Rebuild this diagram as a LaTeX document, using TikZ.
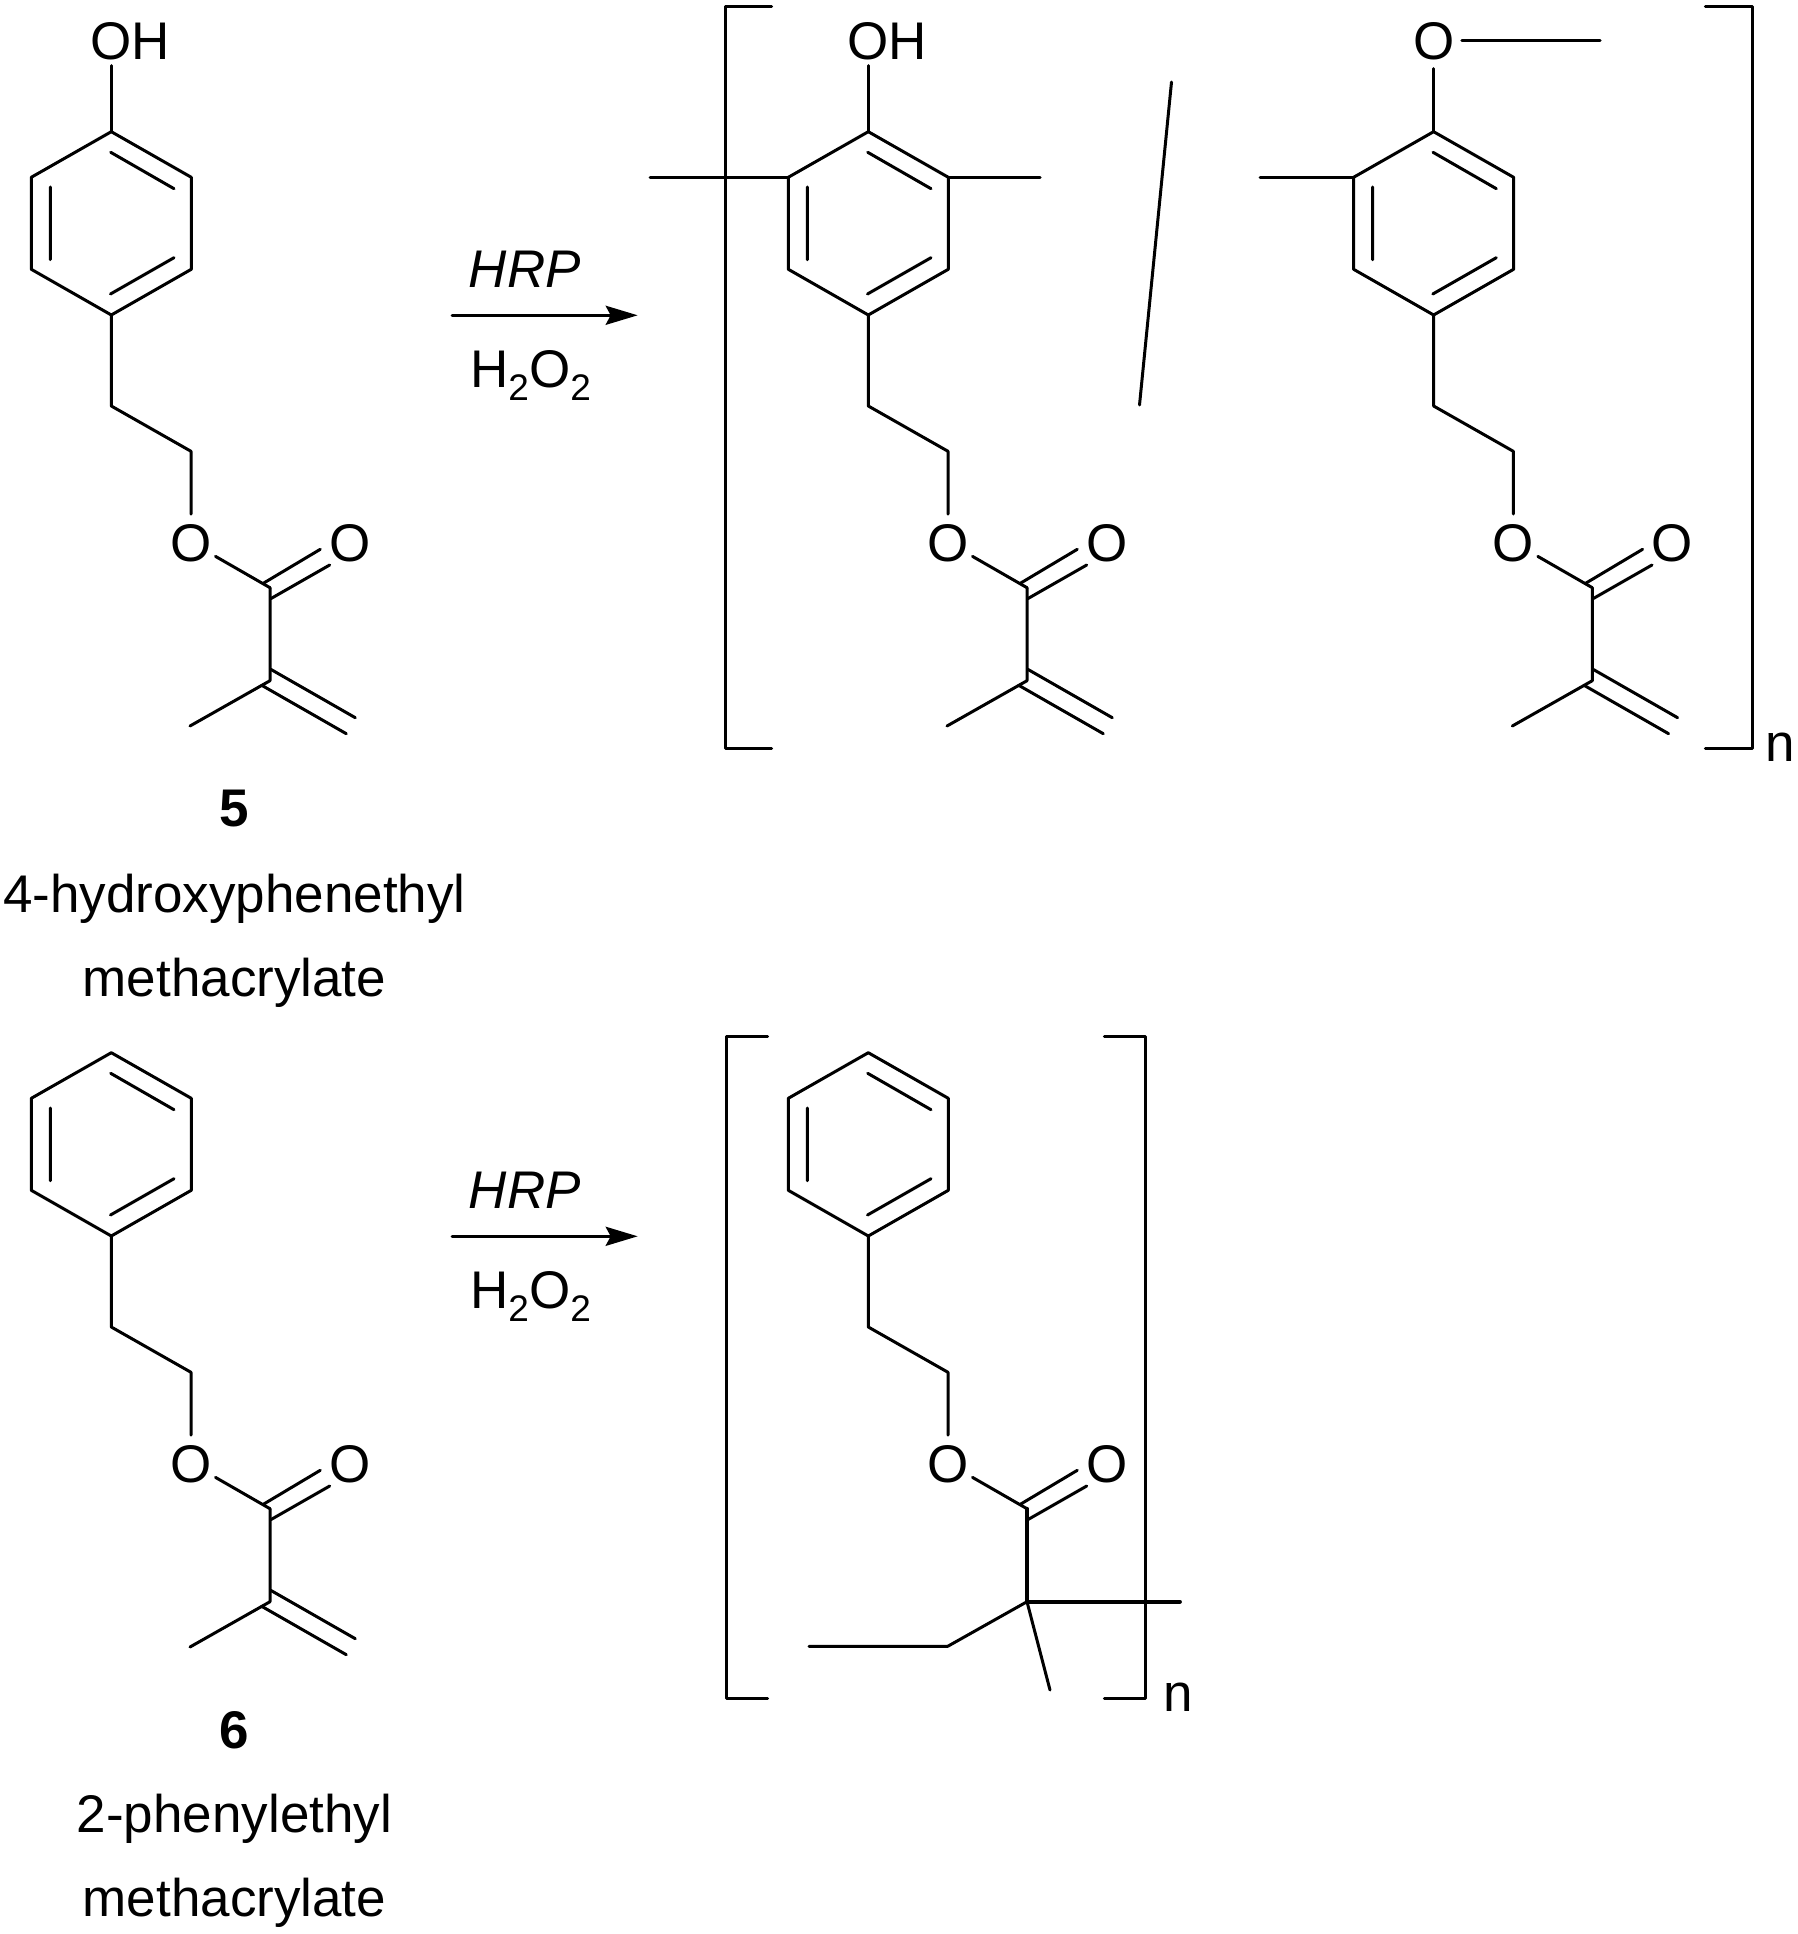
\documentclass[tikz,border=0pt]{standalone}
\usepackage{fontspec}
\setmainfont{Liberation Sans}
\usetikzlibrary{
arrows.meta,
positioning,
shapes.geometric
}
\newcommand{\subtwo}{\raisebox{-12.3pt}{\fontsize{37}{37}\selectfont 2}}
\begin{document}
\begin{tikzpicture}[
    x=1pt, y=-1pt,
    >={Stealth[length=32pt,width=19pt,inset=5pt]},
    bond/.style={line width=3pt, line cap=round, line join=round},
    thickbond/.style={bond, line width=3.8pt},
    every node/.style={font=\fontsize{53}{60}\selectfont, inner sep=0pt},
    atom/.style={circle, minimum size=54pt, text height=38pt, text depth=0pt},
    caption/.style={text height=38pt, text depth=12pt}]
  \useasboundingbox (0,0) rectangle (1797,1934);
  % ring, ethyl chain and ester group
  \foreach \u/\dx/\dy in {a/0/0, b/757/0, c/1322.3/0, d/0/921, e/757/921} {
    \begin{scope}[shift={(\dx,\dy)}]
      \coordinate (\u-r1) at (111.3,131.7);
      \coordinate (\u-r2) at (191.3,177.3);
      \coordinate (\u-r3) at (191.3,269.3);
      \coordinate (\u-r4) at (111.3,315);
      \coordinate (\u-r5) at (31.3,269.3);
      \coordinate (\u-r6) at (31.3,177.3);
      \coordinate (\u-i1) at (110.7,152.3);
      \coordinate (\u-i2) at (174,188.7);
      \coordinate (\u-i3) at (110.5,294);
      \coordinate (\u-i4) at (174,257.7);
      \coordinate (\u-i5) at (50.3,187);
      \coordinate (\u-i6) at (50.3,259.7);
      \coordinate (\u-ch1) at (111.3,406);
      \coordinate (\u-ch2) at (191,451.3);
      \node[atom] (\u-O) at (191,542.3) {O};
      \node[atom] (\u-Oc) at (349.7,542.3) {O};
      \coordinate (\u-co) at (270,587.7);
      \coordinate (\u-co1) at (263.3,583.3);
      \coordinate (\u-co2) at (270.7,598.7);
      \coordinate (\u-co3) at (320.3,549.3);
      \coordinate (\u-co4) at (329.7,565);
      \coordinate (\u-cq) at (270,680.7);
      \draw[bond] (\u-r1) -- (\u-r2) -- (\u-r3) -- (\u-r4) -- (\u-r5) -- (\u-r6) -- cycle;
      \draw[bond] (\u-i1) -- (\u-i2) (\u-i3) -- (\u-i4) (\u-i5) -- (\u-i6);
      \draw[bond] (\u-r4) -- (\u-ch1) -- (\u-ch2) -- (\u-O);
      \draw[bond] (\u-O) -- (\u-co);
      \draw[bond] (\u-co1) -- (\u-co3) (\u-co2) -- (\u-co4);
    \end{scope}
  }
  % methacrylate ends
  \foreach \u/\dx/\dy in {a/0/0, b/757/0, c/1322.3/0, d/0/921} {
    \begin{scope}[shift={(\dx,\dy)}]
      \coordinate (\u-me) at (190,726);
      \coordinate (\u-v1) at (270.7,669.3);
      \coordinate (\u-v2) at (355.3,717.7);
      \coordinate (\u-v3) at (261.7,685.3);
      \coordinate (\u-v4) at (346.3,733.7);
      \draw[bond] (\u-co) -- (\u-cq) -- (\u-me);
      \draw[bond] (\u-v1) -- (\u-v2) (\u-v3) -- (\u-v4);
    \end{scope}
  }
  % substituents on the rings
  \node[anchor=base west] (a-OH) at (90,59.3) {OH};
  \node[anchor=base west] (b-OH) at (847,59.3) {OH};
  \node[atom] (c-O1) at (1433.6,40.3) {O};
  \coordinate (c-mo) at (1600,40.3);
  \coordinate (b-l) at (650,177.3);
  \coordinate (b-r) at (1040,177.3);
  \coordinate (c-l) at (1260,177.3);
  \coordinate (a-t) at (111.3,65.7);
  \coordinate (b-t) at (868.3,65.7);
  \draw[bond] (a-t) -- (a-r1);
  \draw[bond] (b-t) -- (b-r1);
  \draw[bond] (c-O1) -- (c-r1);
  \draw[bond] (c-O1) -- (c-mo);
  \draw[bond] (b-l) -- (b-r6);
  \draw[bond] (b-r) -- (b-r2);
  \draw[bond] (c-l) -- (c-r6);
  % backbone of the lower polymer
  \coordinate (e-end) at (1180,1601.7);
  \coordinate (e-ch) at (947.7,1646.3);
  \coordinate (e-free) at (809,1646.3);
  \coordinate (e-me) at (1050,1690);
  \draw[thickbond] (e-co) -- (e-cq) -- (e-end);
  \draw[bond] (e-free) -- (e-ch) -- (e-cq);
  \draw[bond] (e-cq) -- (e-me);
  % brackets
  \coordinate (p1) at (771.5,7);
  \coordinate (p2) at (725.8,7);
  \coordinate (p3) at (725.8,748);
  \coordinate (p4) at (771.5,748);
  \coordinate (q1) at (1705.3,7);
  \coordinate (q2) at (1752,7);
  \coordinate (q3) at (1752,748);
  \coordinate (q4) at (1705.3,748);
  \draw[bond] (p1) -- (p2) -- (p3) -- (p4);
  \draw[bond] (q1) -- (q2) -- (q3) -- (q4);
  \coordinate (s1) at (767.7,1036.4);
  \coordinate (s2) at (726,1036.4);
  \coordinate (s3) at (726,1698.3);
  \coordinate (s4) at (767.7,1698.3);
  \coordinate (t1) at (1104.3,1036.4);
  \coordinate (t2) at (1145.7,1036.4);
  \coordinate (t3) at (1145.7,1698.3);
  \coordinate (t4) at (1104.3,1698.3);
  \draw[bond] (s1) -- (s2) -- (s3) -- (s4);
  \draw[bond] (t1) -- (t2) -- (t3) -- (t4);
  \node[anchor=base] (n1) at (1779.8,761.7) {n};
  \node[anchor=base] (n2) at (1178,1711.7) {n};
  % separator
  \coordinate (sl1) at (1171.5,82);
  \coordinate (sl2) at (1139.5,405);
  \draw[bond] (sl1) -- (sl2);
  % arrows
  \foreach \r/\y in {top/315.3, low/1236.3} {
    \coordinate (\r-from) at (452,\y);
    \coordinate (\r-to) at (637.7,\y);
    \draw[bond, ->] (\r-from) -- (\r-to);
    \node[anchor=base, font=\fontsize{53}{60}\selectfont\itshape] (\r-hrp) at (524.7,\y-27.6) {HRP};
    \node[anchor=base] (\r-per) at (530.5,\y+72.4) {H\subtwo O\subtwo};
  }
  % captions
  \node[caption, font=\fontsize{53}{60}\bfseries\selectfont] (five) at (234.5,813) {5};
  \node[caption, below=35.7pt of five] (name5a) {4-hydroxyphenethyl};
  \node[caption, below=33.6pt of name5a] (name5b) {methacrylate};
  \node[caption, font=\fontsize{53}{60}\bfseries\selectfont] (six) at (234.5,1735.3) {6};
  \node[caption, below=34pt of six] (name6a) {2-phenylethyl};
  \node[caption, below=33.7pt of name6a] (name6b) {methacrylate};
\end{tikzpicture}
\end{document}
